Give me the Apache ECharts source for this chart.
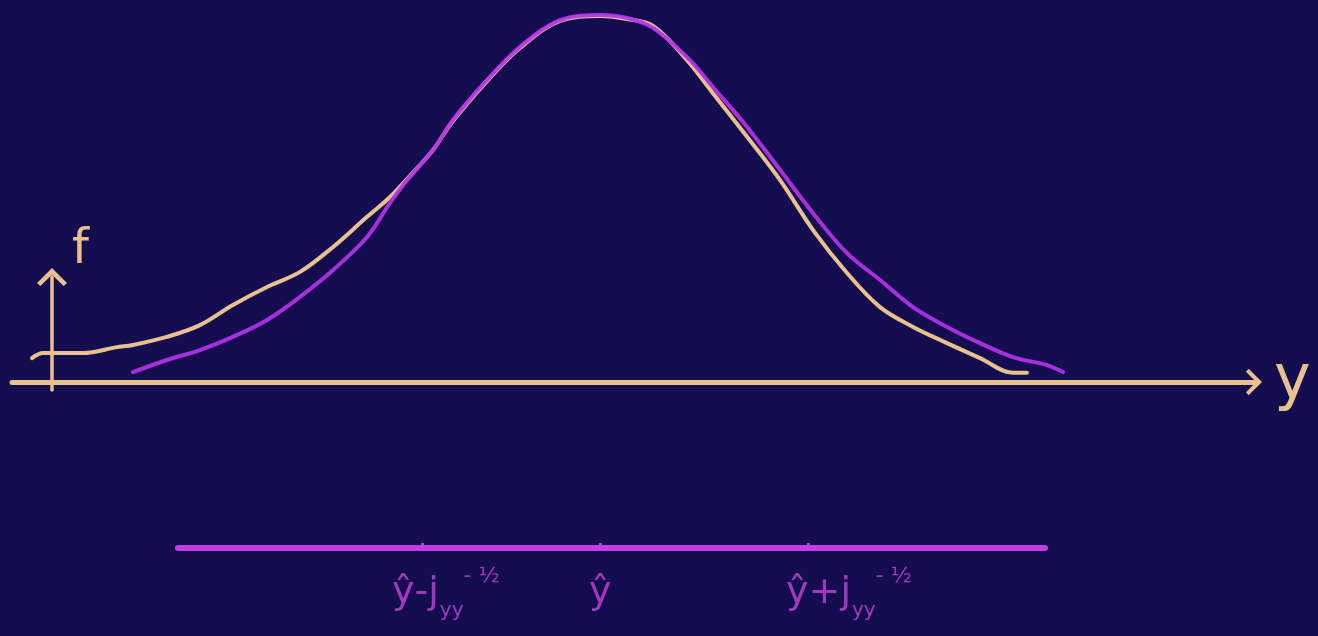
<!DOCTYPE html>
<html>
<head>
<meta charset="utf-8">
<script src="https://cdn.jsdelivr.net/npm/echarts@6/dist/echarts.min.js"></script>
<style>
  html, body { margin: 0; padding: 0; background: #140d50; }
  #chart { width: 1318px; height: 636px; }
</style>
</head>
<body>
<div id="chart"></div>
<script>
// Horizontal unit: spread around the mode ŷ; vertical unit: density relative to the peak.
// Normal approximation (purple) drawn over the actual density (tan).
const normalX = [-2.420, -2.244, -2.073, -1.902, -1.725, -1.554, -1.383, -1.207, -1.088, -1.000,
                 -0.865, -0.762, -0.585, -0.415, -0.207, 0.000, 0.140, 0.275, 0.466, 0.585,
                 0.762, 0.933, 1.104, 1.280, 1.451, 1.622, 1.798, 1.969, 2.140, 2.316, 2.399];
const normalF = [0.027, 0.060, 0.087, 0.123, 0.169, 0.232, 0.305, 0.395, 0.488, 0.550,
                 0.632, 0.714, 0.823, 0.913, 0.986, 1.000, 0.992, 0.965, 0.877, 0.804,
                 0.695, 0.578, 0.460, 0.351, 0.278, 0.204, 0.150, 0.106, 0.068, 0.046, 0.027];

const densityX = [-2.943, -2.886, -2.679, -2.503, -2.420, -2.244, -2.073, -1.902, -1.725, -1.554,
                  -1.383, -1.207, -1.088, -0.948, -0.865, -0.762, -0.585, -0.415, -0.207, 0.000,
                  0.140, 0.275, 0.451, 0.585, 0.762, 0.933, 1.104, 1.280, 1.451, 1.622,
                  1.798, 1.969, 2.140, 2.212];
const densityF = [0.065, 0.079, 0.079, 0.095, 0.101, 0.123, 0.155, 0.210, 0.259, 0.300,
                  0.368, 0.450, 0.504, 0.583, 0.632, 0.711, 0.820, 0.910, 0.984, 0.997,
                  0.989, 0.970, 0.877, 0.787, 0.668, 0.550, 0.414, 0.297, 0.204, 0.150,
                  0.106, 0.065, 0.025, 0.025];

// Interval marks on the lower scale: ŷ - j^(-1/2), ŷ, ŷ + j^(-1/2)
const intervalTicks = [-0.922, 0, 1.078];
const intervalLabels = [
  '{m|ŷ-j}{sub|yy}{sup|- ½}',
  '{m|ŷ}',
  '{m|ŷ+j}{sub|yy}{sup|- ½}'
];

const TAN = '#e9c18f';
const PURPLE = '#b532e8';
const MAGENTA = '#c23de6';
const LABEL = '#c443d8';
const FONT = 'DejaVu Sans';
const CHEVRON = 'path://M0,20 L20,0 L40,20 L35.5,24 L20,9 L4.5,24 Z';

const zip = (xs, ys) => xs.map((x, i) => [x, ys[i]]);
const labelShift = [-30, -11, -22];

const option = {
  backgroundColor: '#140d50',
  animation: false,
  grid: [
    { left: 12, right: 64, top: 277, bottom: 246 },
    { left: 178, right: 273, top: 448, bottom: 88 }
  ],
  xAxis: [
    {
      gridIndex: 0, type: 'value', min: -3.0466, max: 3.3886,
      axisLine: {
        show: true, onZero: true,
        symbol: ['none', CHEVRON], symbolSize: [28, 16],
        lineStyle: { color: TAN, width: 5, cap: 'round' }
      },
      axisTick: { show: false }, axisLabel: { show: false }, splitLine: { show: false },
      name: 'y', nameLocation: 'end', nameGap: 20,
      nameTextStyle: { color: TAN, fontSize: 62, fontFamily: FONT, verticalAlign: 'middle' }
    },
    {
      gridIndex: 1, type: 'value', min: -2.1865, max: 2.3057, position: 'bottom',
      axisLine: { show: true, onZero: false, lineStyle: { color: MAGENTA, width: 6, cap: 'round' } },
      axisTick: { show: true, inside: true, length: 5, customValues: intervalTicks,
                  lineStyle: { color: MAGENTA, width: 3 } },
      axisLabel: { show: false }, splitLine: { show: false }
    }
  ],
  yAxis: [
    {
      gridIndex: 0, type: 'value', min: -0.0218, max: 0.2861, offset: -40,
      axisLine: {
        show: true, onZero: false,
        symbol: ['none', CHEVRON], symbolSize: [30, 18],
        lineStyle: { color: TAN, width: 3.5, cap: 'round' }
      },
      axisTick: { show: false }, axisLabel: { show: false }, splitLine: { show: false },
      name: 'f', nameLocation: 'end', nameGap: 2,
      nameTextStyle: { color: TAN, fontSize: 48, fontFamily: FONT, align: 'left', verticalAlign: 'bottom', padding: [0, 0, 0, 20] }
    },
    {
      gridIndex: 1, type: 'value', min: 0, max: 1, show: false
    }
  ],
  series: [
    {
      name: 'density', type: 'line', xAxisIndex: 0, yAxisIndex: 0,
      data: zip(densityX, densityF), smooth: 0.35, showSymbol: false, clip: false,
      lineStyle: { color: TAN, width: 4, cap: 'round', join: 'round' }, z: 3
    },
    {
      name: 'normal', type: 'line', xAxisIndex: 0, yAxisIndex: 0,
      data: zip(normalX, normalF), smooth: 0.35, showSymbol: false, clip: false,
      lineStyle: { color: PURPLE, width: 4, cap: 'round', join: 'round', opacity: 0.92 }, z: 4
    },
    {
      name: 'interval', type: 'scatter', xAxisIndex: 1, yAxisIndex: 1,
      symbolSize: 0, silent: true,
      data: intervalTicks.map((v, i) => ({
        value: [v, 0],
        label: { formatter: intervalLabels[i], offset: [labelShift[i], 0] }
      })),
      label: {
        show: true, position: 'bottom', distance: 17, align: 'left',
        color: LABEL, fontFamily: FONT,
        rich: {
          m: { fontSize: 38, lineHeight: 56, color: LABEL, fontFamily: FONT },
          sub: { fontSize: 20, color: LABEL, fontFamily: FONT, verticalAlign: 'bottom', padding: [0, 0, 0, 1] },
          sup: { fontSize: 22, color: LABEL, fontFamily: FONT, verticalAlign: 'top', padding: [0, 0, 0, 0] }
        }
      }
    }
  ]
};

const chart = echarts.init(document.getElementById('chart'), null, { renderer: 'canvas' });
chart.setOption(option);
</script>
</body>
</html>
